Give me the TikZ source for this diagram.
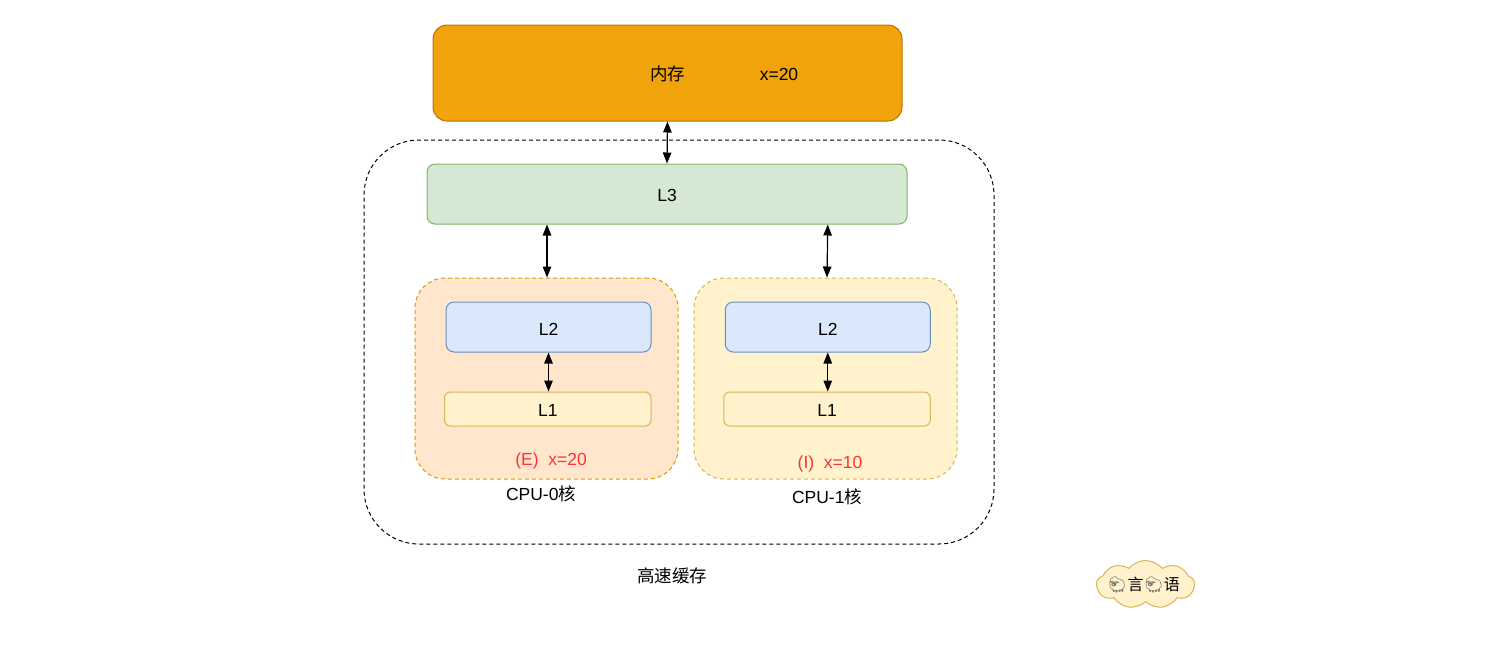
\documentclass[tikz,border=0pt]{standalone}
\usepackage{fontspec}
\setmainfont{Liberation Sans}
\newfontfamily\cjk{Noto Sans CJK SC}
\newfontfamily\emoji{Noto Emoji}
\usepackage{tikz}
\usetikzlibrary{arrows.meta,shapes.symbols}
\definecolor{memfill}{HTML}{F0A30A}
\definecolor{memline}{HTML}{BD7000}
\definecolor{greenfill}{HTML}{D5E8D4}
\definecolor{greenline}{HTML}{82B366}
\definecolor{orangefill}{HTML}{FFE6CC}
\definecolor{orangeline}{HTML}{D79B00}
\definecolor{yellowfill}{HTML}{FFF2CC}
\definecolor{yellowline}{HTML}{D6B656}
\definecolor{bluefill}{HTML}{DAE8FC}
\definecolor{blueline}{HTML}{6C8EBF}
\definecolor{redtext}{HTML}{FF3333}
\definecolor{sheep}{HTML}{77776C}
\newcommand{\nudge}[2]{\raisebox{-#1pt}[\height][\depth]{#2}}

\begin{document}
\begin{tikzpicture}[x=1pt,y=-1pt]
 \tikzstyle{every node}=[font=\fontsize{17.5}{20}\selectfont,inner sep=0pt]
 \tikzstyle{box} = [draw,line width=1pt,rounded corners=8pt]
 \tikzstyle{Mem} = [box,fill=memfill,draw=memline,rounded corners=14pt,minimum width=469pt,minimum height=96pt]
 \tikzstyle{Three} = [box,fill=greenfill,draw=greenline,minimum width=480pt,minimum height=60pt]
 \tikzstyle{Core} = [box,dash pattern=on 4pt off 3pt,rounded corners=30pt,minimum width=263pt,minimum height=201pt]
 \tikzstyle{Two} = [box,fill=bluefill,draw=blueline,minimum width=205pt,minimum height=50pt]
 \tikzstyle{One} = [box,fill=yellowfill,draw=yellowline,rounded corners=6pt,minimum width=206.5pt,minimum height=34pt]
 \tikzstyle{l} = [draw,{Stealth[inset=0pt,length=11pt,width=8.5pt]}-{Stealth[inset=0pt,length=11pt,width=8.5pt]},line width=1.2pt]
 \useasboundingbox (0,0) rectangle (1496,646);
 \draw
 (679,342) node [box,draw=black,dash pattern=on 4pt off 3pt,rounded corners=55pt,minimum width=630pt,minimum height=404pt] (Cache) {}
 (667.5,73) node [Mem] (Memory) {\nudge{1}{\cjk 内存}}
 (Memory) ++(111.5,1.5) node (Value) {x=20}
 (Memory) ++(-0.5,121) node [Three] (L3) {\nudge{1}{L3}}
 (L3) ++(-120.5,184.5) node [Core,fill=orangefill,draw=orangeline] (CoreA) {}
 (L3) ++(158.5,184.5) node [Core,fill=yellowfill,draw=yellowline] (CoreB) {}
 (CoreA) ++(2,-51.5) node [Two] (TwoA) {\nudge{2}{L2}}
 (TwoA) ++(-0.75,82) node [One] (OneA) {\nudge{1}{L1}}
 (CoreB) ++(2.25,-51.5) node [Two] (TwoB) {\nudge{2}{L2}}
 (TwoB) ++(-0.75,82) node [One] (OneB) {\nudge{1}{L1}}
 (CoreA) ++(4.5,82) node [text=redtext] (StateA) {(E)\ \ x=20}
 (CoreB) ++(4.5,85) node [text=redtext] (StateB) {(I)\ \ x=10}
 (CoreA) ++(-5.5,115.5) node (NameA) {CPU-0{\cjk 核}}
 (CoreB) ++(1.5,118.5) node (NameB) {CPU-1{\cjk 核}}
 (Cache) ++(-7,234) node (CacheName) {{\cjk 高速缓存}}
 (1145.5,584.5) node [cloud,cloud puffs=9,cloud puff arc=100,aspect=2,draw=yellowline,fill=yellowfill,line width=1pt,minimum width=98pt,minimum height=48pt] (Cloud) {}
 (Cloud) ++(-2,0.5) node (CloudText) {{\fontsize{16}{16}\selectfont\color{sheep}\emoji 🐑}{\fontsize{16}{20}\selectfont\cjk 言}{\fontsize{16}{16}\selectfont\color{sheep}\emoji 🐑}{\fontsize{16}{20}\selectfont\cjk 语}}
 ;
 \path [l] (Memory.south) -- (L3.north);
 \path [l] (L3.south -| TwoA.north) ++(-1.5,0) coordinate (TopA) -- (CoreA.north -| TopA);
 \path [l] (L3.south -| TwoB.north) coordinate (TopB) -- (CoreB.north -| OneB.north);
 \path [l] (TwoA.south) -- (TwoA.south |- OneA.north);
 \path [l] (TwoB.south) -- (TwoB.south |- OneB.north);
\end{tikzpicture}
\end{document}
